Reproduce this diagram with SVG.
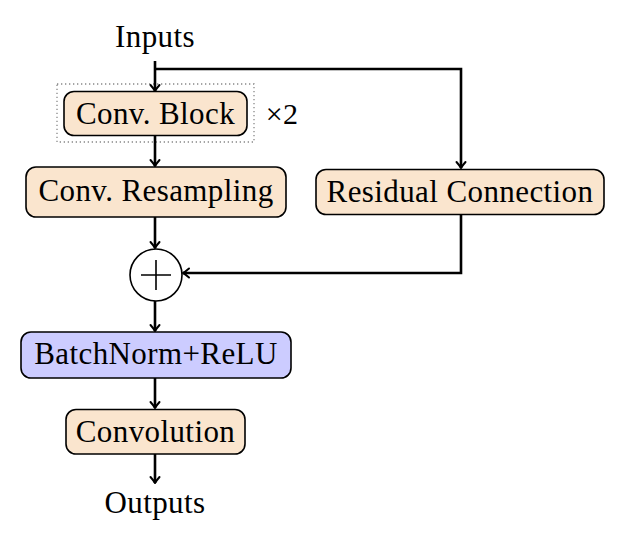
<svg xmlns="http://www.w3.org/2000/svg" width="626" height="546" viewBox="0 0 626 546">
<style>
text{font-family:"Liberation Serif","Times New Roman",serif;font-size:31px;letter-spacing:0.4px;fill:#000;text-anchor:middle}
.box{fill:#FAE5CE;stroke:#000;stroke-width:1.6}
.blue{fill:#CCCCFF;stroke:#000;stroke-width:1.6}
.con{fill:none;stroke:#000;stroke-width:2.6}
</style>
<defs>
<marker id="ah" viewBox="-8 -6 10 12" markerWidth="10" markerHeight="12" markerUnits="userSpaceOnUse" refX="0" refY="0" orient="auto">
<path d="M-6,-4.5 Q-2,-1 0,0 Q-2,1 -6,4.5" fill="none" stroke="#000" stroke-width="2" stroke-linecap="round" stroke-linejoin="round"/>
</marker>
</defs>
<g id="inputs"><text x="155" y="47">Inputs</text></g>
<g id="repeat"><rect x="57" y="84" width="197" height="58" fill="none" stroke="#888" stroke-width="1.3" stroke-dasharray="1.3,2.7"/></g>
<g id="convblock"><rect class="box" x="64" y="91.5" width="183" height="44" rx="10"/><text x="155.5" y="124">Conv. Block</text></g>
<g id="times2"><text x="282" y="124" style="font-size:30px">×2</text></g>
<g id="convresampling"><rect class="box" x="26" y="167" width="260" height="50" rx="10"/><text x="156" y="201">Conv. Resampling</text></g>
<g id="residual"><rect class="box" x="316" y="169.5" width="288" height="45" rx="10"/><text x="460" y="202">Residual Connection</text></g>
<g id="sum"><circle cx="156" cy="275" r="26" fill="#fff" stroke="#000" stroke-width="1.6"/><path d="M141,275H171M156,260V290" stroke="#000" stroke-width="1.6"/></g>
<g id="bnrelu"><rect class="blue" x="21" y="332" width="270" height="46" rx="10"/><text x="156" y="364">BatchNorm+ReLU</text></g>
<g id="convolution"><rect class="box" x="66" y="409.5" width="179" height="44.5" rx="10"/><text x="155.5" y="442">Convolution</text></g>
<g id="outputs"><text x="155" y="513">Outputs</text></g>
<g id="connectors">
<path class="con" d="M155,61V91" marker-end="url(#ah)"/>
<path class="con" d="M155,69H461V168" marker-end="url(#ah)"/>
<path class="con" d="M155,136V166" marker-end="url(#ah)"/>
<path class="con" d="M155,217V248" marker-end="url(#ah)"/>
<path class="con" d="M461,215V273H183" marker-end="url(#ah)"/>
<path class="con" d="M155,301V331" marker-end="url(#ah)"/>
<path class="con" d="M155,378V408" marker-end="url(#ah)"/>
<path class="con" d="M155,454V483" marker-end="url(#ah)"/>
</g>
</svg>
